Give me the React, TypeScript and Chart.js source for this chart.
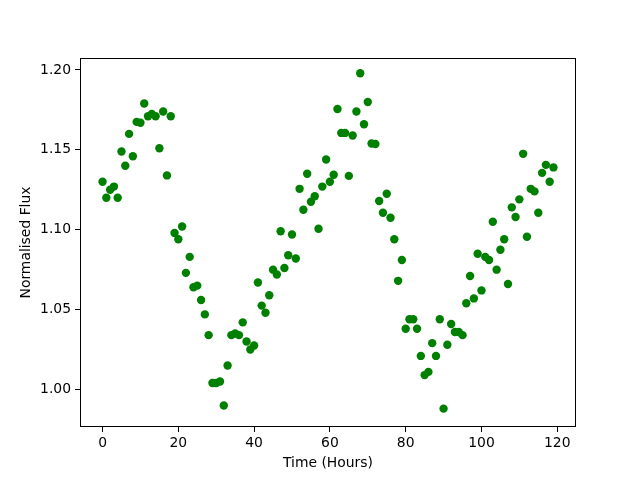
import React, { useEffect, useRef } from "react";
import { Chart, registerables } from "chart.js";

Chart.register(...registerables);

const hours: number[] = Array.from({ length: 120 }, (_, i) => i);
const flux: number[] = [
  1.130, 1.120, 1.125, 1.127, 1.120, 1.149, 1.140, 1.160, 1.146, 1.1675,
  1.167, 1.179, 1.171, 1.1725, 1.171, 1.151, 1.174, 1.134, 1.171, 1.098,
  1.094, 1.102, 1.073, 1.083, 1.064, 1.065, 1.056, 1.047, 1.034, 1.004,
  1.004, 1.005, 0.990, 1.015, 1.034, 1.035, 1.034, 1.042, 1.030, 1.025,
  1.0275, 1.067, 1.0525, 1.048, 1.059, 1.075, 1.072, 1.099, 1.076, 1.084,
  1.097, 1.082, 1.1256, 1.1125, 1.135, 1.1175, 1.121, 1.1006, 1.127, 1.144,
  1.130, 1.1344, 1.1756, 1.1606, 1.1606, 1.1337, 1.159, 1.174, 1.198, 1.166,
  1.180, 1.154, 1.1537, 1.118, 1.1106, 1.1225, 1.1075, 1.094, 1.068, 1.081,
  1.038, 1.044, 1.044, 1.038, 1.021, 1.009, 1.011, 1.029, 1.021, 1.044,
  0.988, 1.028, 1.041, 1.036, 1.036, 1.034, 1.054, 1.071, 1.057, 1.085,
  1.062, 1.083, 1.081, 1.105, 1.075, 1.0875, 1.094, 1.066, 1.114, 1.108,
  1.119, 1.1475, 1.0956, 1.1256, 1.124, 1.1106, 1.1356, 1.1406, 1.130, 1.139,
];
const xTicks: number[] = [0, 20, 40, 60, 80, 100, 120];
const yTicks: number[] = [1.0, 1.05, 1.1, 1.15, 1.2];
const xLabel = "Time (Hours)";
const yLabel = "Normalised Flux";

const FONT = "'DejaVu Sans', sans-serif";

export default function App() {
  const ref = useRef<HTMLCanvasElement | null>(null);
  useEffect(() => {
    if (!ref.current) return;
    const frame = {
      id: "frame",
      afterDatasetsDraw(chart: any) {
        const { ctx, chartArea } = chart;
        ctx.save();
        ctx.strokeStyle = "#000";
        ctx.lineWidth = 1;
        ctx.strokeRect(
          Math.round(chartArea.left) + 0.5,
          Math.round(chartArea.top) + 0.5,
          Math.round(chartArea.right - chartArea.left) - 1,
          Math.round(chartArea.bottom - chartArea.top) - 1
        );
        ctx.restore();
      },
    };
    const chart = new Chart(ref.current, {
      type: "scatter",
      data: {
        datasets: [
          {
            data: hours.map((h, i) => ({ x: h, y: flux[i] })),
            backgroundColor: "#008000",
            borderWidth: 0,
            pointRadius: 4.2,
            pointHoverRadius: 4.2,
          },
        ],
      },
      options: {
        animation: false,
        responsive: false,
        devicePixelRatio: 1,
        layout: { padding: { top: 58, right: 64, left: 0, bottom: 0 } },
        plugins: { legend: { display: false }, tooltip: { enabled: false } },
        scales: {
          x: {
            type: "linear",
            min: -5.95,
            max: 124.95,
            afterBuildTicks: (s: any) => {
              s.ticks = xTicks.map((v) => ({ value: v }));
            },
            afterFit: (s: any) => {
              s.height = 53;
            },
            border: { display: false },
            grid: { drawOnChartArea: false, drawTicks: true, tickLength: 5, color: "#000" },
            ticks: {
              color: "#000",
              padding: 3,
              maxRotation: 0,
              autoSkip: false,
              font: { family: FONT, size: 13.9 },
              callback: (v: any) => String(v),
            },
            title: {
              display: true,
              text: xLabel,
              color: "#000",
              font: { family: FONT, size: 13.9 },
              padding: { top: 0, bottom: 8.6 },
            },
          },
          y: {
            type: "linear",
            min: 0.9765,
            max: 1.2075,
            afterBuildTicks: (s: any) => {
              s.ticks = yTicks.map((v) => ({ value: v }));
            },
            afterFit: (s: any) => {
              s.width = 80;
            },
            border: { display: false },
            grid: { drawOnChartArea: false, drawTicks: true, tickLength: 5, color: "#000" },
            ticks: {
              color: "#000",
              padding: 4,
              autoSkip: false,
              font: { family: FONT, size: 13.9 },
              callback: (v: any) => Number(v).toFixed(2),
            },
            title: {
              display: true,
              text: yLabel,
              color: "#000",
              font: { family: FONT, size: 13.9 },
              padding: { top: 17.6, bottom: 0 },
            },
          },
        },
      },
      plugins: [frame],
    });
    return () => chart.destroy();
  }, []);
  return (
    <div style={{ position: "fixed", left: 0, top: 0, width: 640, height: 480, background: "#fff" }}>
      <canvas ref={ref} width={640} height={480} style={{ width: 640, height: 480 }} />
    </div>
  );
}
